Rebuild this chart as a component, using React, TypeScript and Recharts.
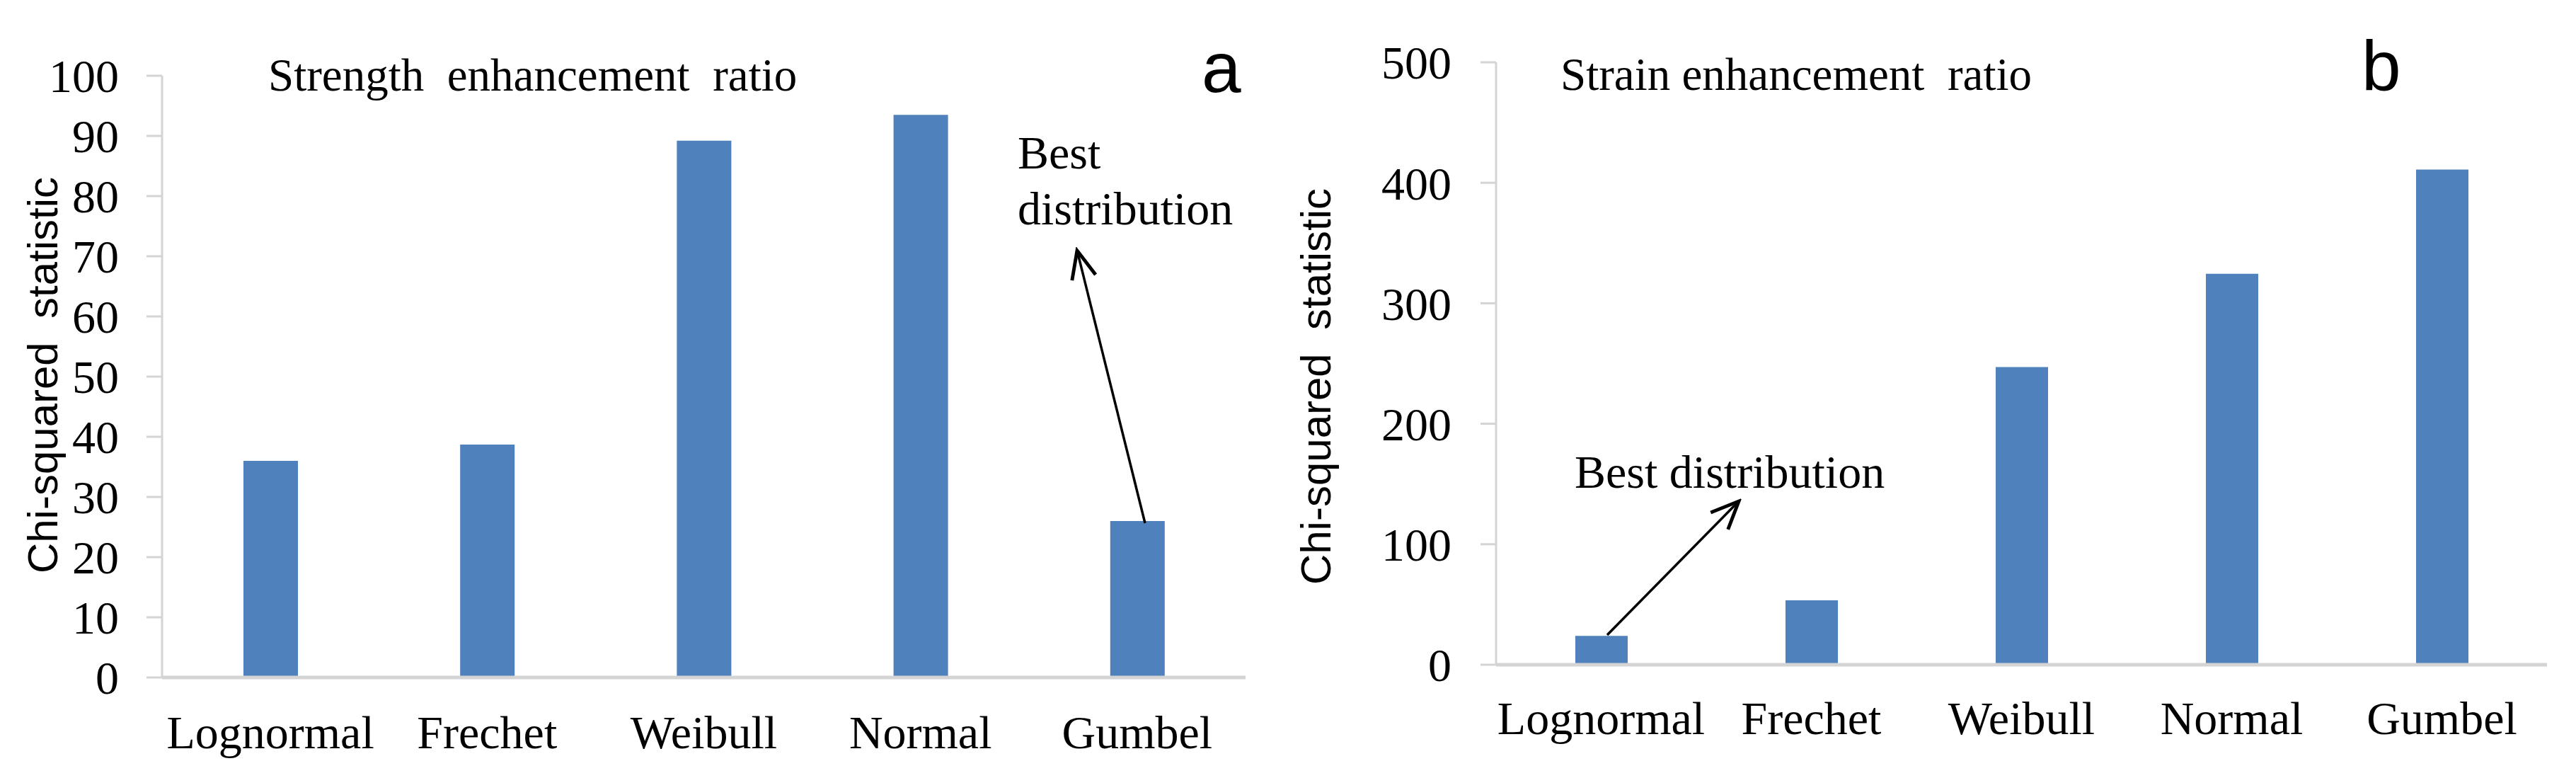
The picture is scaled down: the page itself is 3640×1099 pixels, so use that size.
import React from "react";
import { BarChart, Bar, XAxis, YAxis } from "recharts";

// Distribution names shared by both panels
const distributions = ["Lognormal", "Frechet", "Weibull", "Normal", "Gumbel"];

// Panel a: strength enhancement ratio
const strengthChi = [36, 38.7, 89.2, 93.5, 26];
const strengthTicks = [0, 10, 20, 30, 40, 50, 60, 70, 80, 90, 100];

// Panel b: strain enhancement ratio
const strainChi = [24, 53.5, 247, 324.5, 411];
const strainTicks = [0, 100, 200, 300, 400, 500];

const SERIF = "'Liberation Serif', 'Times New Roman', serif";
const SANS = "'Liberation Sans', Arial, sans-serif";
const BAR = "#4f81bd";
const AXIS = "#d4d4d4";

const strengthData = distributions.map((name, i) => ({ name, value: strengthChi[i] }));
const strainData = distributions.map((name, i) => ({ name, value: strainChi[i] }));

function XTick({ x, y, payload, offset }: any) {
  return (
    <text x={x} y={y + offset} textAnchor="middle" fontFamily={SERIF} fontSize={66} fill="#000">
      {payload.value}
    </text>
  );
}

interface PanelProps {
  data: { name: string; value: number }[];
  ticks: number[];
  max: number;
  top: number;
  right: number;
  yWidth: number;
  xHeight: number;
  labelOffset: number;
  barSize: number;
  tickMargin: number;
}

function Panel({ data, ticks, max, top, right, yWidth, xHeight, labelOffset, barSize, tickMargin }: PanelProps) {
  return (
    <BarChart width={1820} height={1099} data={data} margin={{ top, right, bottom: 0, left: 0 }}>
      <XAxis
        dataKey="name"
        interval={0}
        height={xHeight}
        tickLine={false}
        tickSize={0}
        tickMargin={0}
        axisLine={{ stroke: AXIS, strokeWidth: 5 }}
        tick={(props: any) => <XTick {...props} offset={labelOffset} />}
      />
      <YAxis
        width={yWidth}
        domain={[0, max]}
        ticks={ticks}
        interval={0}
        tickSize={22}
        tickMargin={tickMargin}
        axisLine={{ stroke: AXIS, strokeWidth: 3 }}
        tickLine={{ stroke: AXIS, strokeWidth: 3 }}
        tick={{ fill: "#000", fontSize: 66, fontFamily: SERIF }}
      />
      <Bar dataKey="value" fill={BAR} barSize={barSize} isAnimationActive={false} />
    </BarChart>
  );
}

export default function App() {
  return (
    <div style={{ position: "absolute", left: 0, top: 0, width: 3640, height: 1099, background: "#fff" }}>
      <div style={{ position: "absolute", left: 0, top: 0 }}>
        <Panel
          data={strengthData}
          ticks={strengthTicks}
          max={100}
          top={107}
          right={60}
          yWidth={229}
          xHeight={142}
          labelOffset={100}
          barSize={77}
          tickMargin={39}
        />
      </div>
      <div style={{ position: "absolute", left: 1820, top: 0 }}>
        <Panel
          data={strainData}
          ticks={strainTicks}
          max={500}
          top={88}
          right={41}
          yWidth={294}
          xHeight={160}
          labelOffset={98}
          barSize={74}
          tickMargin={41}
        />
      </div>
      <svg
        width={3640}
        height={1099}
        style={{ position: "absolute", left: 0, top: 0, pointerEvents: "none" }}
      >
        <defs>
          <marker id="openHead" viewBox="0 0 20 20" refX="18" refY="10" markerWidth="14" markerHeight="14" orient="auto" markerUnits="strokeWidth">
            <path d="M2,3 L18,10 L2,17" fill="none" stroke="#000" strokeWidth="2" />
          </marker>
        </defs>

        {/* panel a */}
        <text transform="translate(81,530) rotate(-90)" textAnchor="middle" fontFamily={SANS} fontSize={60} fill="#000">
          {"Chi-squared\u00A0 statistic"}
        </text>
        <text x={379} y={128} fontFamily={SERIF} fontSize={65} fill="#000">
          {"Strength\u00A0 enhancement\u00A0 ratio"}
        </text>
        <text x={1698} y={130} fontFamily={SANS} fontSize={100} fill="#000">a</text>
        <text x={1438} y={238} fontFamily={SERIF} fontSize={66} fill="#000">Best</text>
        <text x={1438} y={317} fontFamily={SERIF} fontSize={66} fill="#000">distribution</text>
        <line x1={1618} y1={739} x2={1522} y2={354} stroke="#000" strokeWidth={3.5} markerEnd="url(#openHead)" />

        {/* panel b */}
        <text transform="translate(1880,546) rotate(-90)" textAnchor="middle" fontFamily={SANS} fontSize={60} fill="#000">
          {"Chi-squared\u00A0 statistic"}
        </text>
        <text x={2205} y={127} fontFamily={SERIF} fontSize={65} fill="#000">
          {"Strain enhancement\u00A0 ratio"}
        </text>
        <text x={3337} y={128} fontFamily={SANS} fontSize={100} fill="#000">b</text>
        <text x={2225} y={689} fontFamily={SERIF} fontSize={66} fill="#000">Best distribution</text>
        <line x1={2271} y1={897} x2={2457} y2={708} stroke="#000" strokeWidth={3.5} markerEnd="url(#openHead)" />
      </svg>
    </div>
  );
}
